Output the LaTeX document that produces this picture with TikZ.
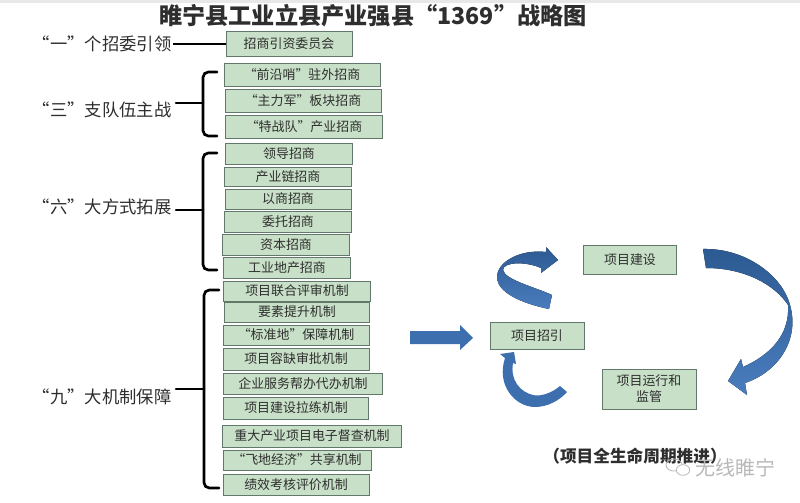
\documentclass[tikz,border=0pt]{standalone}
\usepackage{fontspec}
\setmainfont{Noto Sans CJK SC}
\usepackage{xcolor}
\usetikzlibrary{positioning,calc,arrows.meta,shapes.geometric}
\definecolor{boxg}{HTML}{C8E0C8}
\definecolor{boxl}{HTML}{62786A}
\definecolor{ink}{HTML}{2E2E2E}
\definecolor{flowd}{HTML}{2C5A92}
\definecolor{flowm}{HTML}{3D6FAE}
\definecolor{flowl}{HTML}{4A7DBE}
\tikzset{
  fld/.style={draw=boxl, fill=boxg, line width=0.7pt, inner sep=0pt, align=center, text=ink, font=\fontsize{9.7}{12}\selectfont},
  lbl/.style={inner sep=1pt, text=ink, font=\fontsize{13}{15}\selectfont},
  brc/.style={line width=2pt, line cap=round, rounded corners=4pt},
  flow/.style={top color=flowd, bottom color=flowl, draw=none}}

\begin{document}
\begin{tikzpicture}[x=0.75pt, y=-0.75pt]
\useasboundingbox (0,0) rectangle (800,503);
\fill[black!9] (0,0) rectangle (800,3);
\node[font=\fontsize{17.4}{20}\selectfont\bfseries, text=ink] (title) at (373,16) {睢宁县工业立县产业强县“1369”战略图};
\foreach \n/\t/\y in {one/“一”个招委引领/44, three/“三”支队伍主战/110, six/“六”大方式拓展/207, nine/“九”大机制保障/397}
  \node[lbl, anchor=east] (\n) at (173,\y) {\t};
\foreach \n/\x/\y/\w/\h/\t in {a1/289/44/126/25/招商引资委员会,
    b1/302/75/156/23/“前沿哨”驻外招商, b2/303/101/156/23/“主力军”板块招商, b3/304/127/157/23/“特战队”产业招商,
    c1/289/154/127/21/领导招商, c2/288/177/127/19/产业链招商, c3/288/199/126/20/以商招商,
    c4/288/222/127/21/委托招商, c5/286/245/127/21/资本招商, c6/287/268/127/21/工业地产招商,
    d1/297/291/147/20/项目联合评审机制, d2/297/312/145/20/要素提升机制, d3/296/335/146/20/“标准地”保障机制,
    d4/296/359/146/22/项目容缺审批机制, d5/303/384/159/21/企业服务帮办代办机制, d6/296/408/145/22/项目建设拉练机制,
    d7/312/436/179/22/重大产业项目电子督查机制, d8/297/460/148/20/“飞地经济”共享机制, d9/296/485/146/21/绩效考核评价机制,
    zs/537/336/94/27/项目招引, js/630/260/93/29/项目建设, yy/649/389/94/40/项目运行和\\监管}
  \node[fld, minimum width=\w*0.75pt, minimum height=\h*0.75pt] (\n) at (\x,\y) {\t};
\draw[line width=1.3pt] (one) -- (a1);
\foreach \n/\m/\s/\ya/\yb/\yc/\e in {three/sb/203/72/103/136/217, six/sl/203/153/210/270/217, nine/sj/204/290/389/488/219} {
  \coordinate (\m top) at (\e,\ya);
  \coordinate (\m mid) at (\s,\yb);
  \coordinate (\m tip) at (176,\yb);
  \coordinate (\m bot) at (\e,\yc);
  \draw[brc] (\m top) -| (\m mid) |- (\m bot);
  \draw[brc, rounded corners=0pt] (\m tip) -- (\m mid);}
\fill[flowm] (410,331) -- (460,331) -- (460,325) -- (473,338) -- (460,350) -- (460,344) -- (410,344) -- cycle;
\fill[flow] (549,309) .. controls (520,303) and (497,292) .. (497,277) .. controls (497,262) and (520,249) .. (546,252)
  -- (546,247) -- (558,260) -- (541,273) -- (541,268) .. controls (525,261) and (503,262) .. (503,270)
  .. controls (505,280) and (535,287) .. (552,295) -- cycle;
\fill[flow] (703,249) .. controls (745,248) and (782,275) .. (790,305) .. controls (800,340) and (778,372) .. (745,383)
  -- (747,395) -- (728,381) -- (741,359) -- (743,367) .. controls (770,355) and (790,335) .. (788,305)
  .. controls (775,285) and (745,268) .. (706,268) -- cycle;
\fill[flowm] (514,352) -- (500,354) -- (505,358) .. controls (496,385) and (515,407) .. (535,407)
  .. controls (548,407) and (560,400) .. (567,392) -- (560,386) .. controls (552,393) and (540,397) .. (533,395)
  .. controls (520,392) and (510,380) .. (513,363) -- (516,364) -- cycle;
\node[font=\fontsize{12.5}{14}\selectfont\bfseries, text=ink] (cap) at (635,456) {（项目全生命周期推进）};
\node[font=\fontsize{15}{17}\selectfont, text=black!28] (mark) at (735,468) {无线睢宁};
\draw[black!28, line width=0.6pt] (674,465) ellipse [x radius=6pt, y radius=4.5pt];
\draw[black!28, fill=white, line width=0.6pt] (683,470) ellipse [x radius=5pt, y radius=4pt];
\end{tikzpicture}
\end{document}
